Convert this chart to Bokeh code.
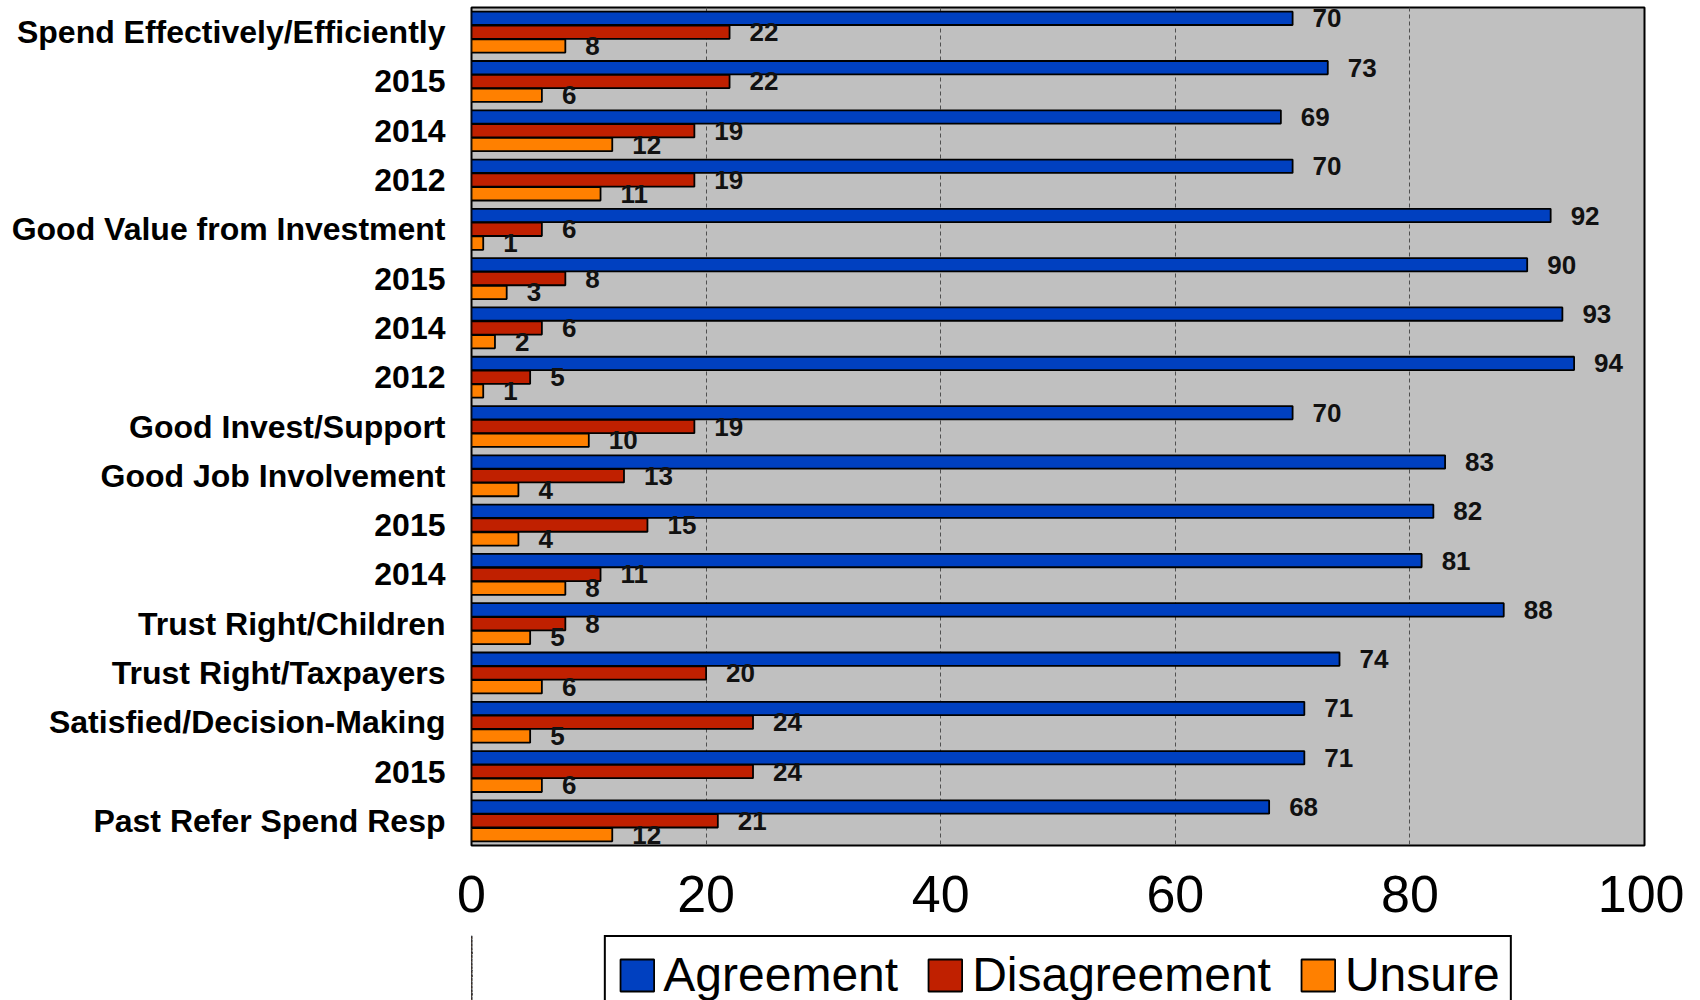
from bokeh.plotting import figure
from bokeh.layouts import column
from bokeh.models import Range1d, FixedTicker, Legend, LegendItem, ColumnDataSource
from bokeh.embed import file_html
from bokeh.resources import INLINE
from bokeh.core.properties import value

categories = ["Spend Effectively/Efficiently", "2015", "2014", "2012",
              "Good Value from Investment", "2015", "2014", "2012",
              "Good Invest/Support", "Good Job Involvement", "2015", "2014",
              "Trust Right/Children", "Trust Right/Taxpayers",
              "Satisfied/Decision-Making", "2015", "Past Refer Spend Resp"]
agreement = [70, 73, 69, 70, 92, 90, 93, 94, 70, 83, 82, 81, 88, 74, 71, 71, 68]
disagreement = [22, 22, 19, 19, 6, 8, 6, 5, 19, 13, 15, 11, 8, 20, 24, 24, 21]
unsure = [8, 6, 12, 11, 1, 3, 2, 1, 10, 4, 4, 8, 5, 6, 5, 6, 12]
x_ticks = [0, 20, 40, 60, 80, 100]
series_names = ["Agreement", "Disagreement", "Unsure"]

colors = ["#0040C0", "#C02000", "#FF8000"]
offsets = [-0.28, 0.0, 0.28]
FONT = "Liberation Sans"

n = len(categories)
pos = list(range(n))

W = 1684
ML, MR, MT = 471, 40, 7
FH = 838
MB = 90
p = figure(width=W, height=MT + FH + MB, output_backend="svg",
           toolbar_location=None, x_range=Range1d(0, 100),
           y_range=Range1d(n - 0.5, -0.5),
           min_border_left=ML, min_border_right=MR, min_border_top=MT,
           min_border_bottom=MB)

p.background_fill_color = "#C0C0C0"
p.border_fill_color = "white"
p.outline_line_color = "black"
p.outline_line_width = 2

sources = []
for vals, col, off in zip([agreement, disagreement, unsure], colors, offsets):
    src = ColumnDataSource(dict(y=[i + off for i in pos], right=vals,
                                label=[str(v) for v in vals]))
    sources.append(src)
    p.hbar(y="y", left=0, right="right", height=0.27, source=src,
           fill_color=col, line_color="black", line_width=1.8)
    p.text(x="right", y="y", text="label", source=src, x_offset=20,
           text_baseline="middle", text_align="left",
           text_font=value(FONT), text_font_style="bold",
           text_font_size="26px", text_color="#111111")

p.xaxis.ticker = FixedTicker(ticks=x_ticks)
p.xaxis.major_label_text_font = FONT
p.xaxis.major_label_text_font_size = "52px"
p.xaxis.major_label_text_color = "black"
p.xaxis.major_label_standoff = 30
p.xaxis.major_tick_out = 0
p.xaxis.major_tick_in = 0
p.xaxis.minor_tick_out = 0
p.xaxis.minor_tick_in = 0
p.xaxis.axis_line_color = None

p.yaxis.ticker = FixedTicker(ticks=pos)
p.yaxis.major_label_overrides = {i: c for i, c in zip(pos, categories)}
p.yaxis.major_label_text_font = FONT
p.yaxis.major_label_text_font_style = "bold"
p.yaxis.major_label_text_font_size = "32px"
p.yaxis.major_label_text_color = "black"
p.yaxis.major_label_standoff = 26
p.yaxis.major_tick_out = 0
p.yaxis.major_tick_in = 0
p.yaxis.minor_tick_out = 0
p.yaxis.minor_tick_in = 0
p.yaxis.axis_line_color = None

p.xgrid.ticker = FixedTicker(ticks=[20, 40, 60, 80])
p.xgrid.grid_line_color = "#505050"
p.xgrid.grid_line_dash = "4 3"
p.xgrid.grid_line_width = 1
p.ygrid.visible = False

# legend strip below the chart (its bars lie left of the visible range)
LH = 1000 - (MT + FH + MB)
pl = figure(width=W, height=LH, output_backend="svg", toolbar_location=None,
            x_range=Range1d(200, 300), y_range=Range1d(n - 0.5, -0.5),
            min_border_left=ML, min_border_right=MR, min_border_top=0,
            min_border_bottom=0)
pl.axis.visible = False
pl.grid.visible = False
pl.outline_line_color = None
pl.background_fill_color = "white"
pl.border_fill_color = "white"

leg_renderers = []
for src, col in zip(sources, colors):
    r = pl.hbar(y="y", left=0, right="right", height=0.27, source=src,
                fill_color=col, line_color="black", line_width=1.8)
    leg_renderers.append(r)

legend = Legend(items=[LegendItem(label=nm, renderers=[r]) for nm, r in zip(series_names, leg_renderers)],
                orientation="horizontal", location="top_center",
                label_text_font=FONT, label_text_font_size="48px",
                label_text_color="black",
                glyph_width=42, glyph_height=40, label_standoff=6,
                spacing=26, padding=10, margin=0,
                border_line_color="black", border_line_width=2,
                border_line_alpha=1,
                background_fill_color="white", background_fill_alpha=1)
pl.add_layout(legend, "center")

layout = column(p, pl, spacing=0)
open("out.html", "w").write(file_html(layout, INLINE))
